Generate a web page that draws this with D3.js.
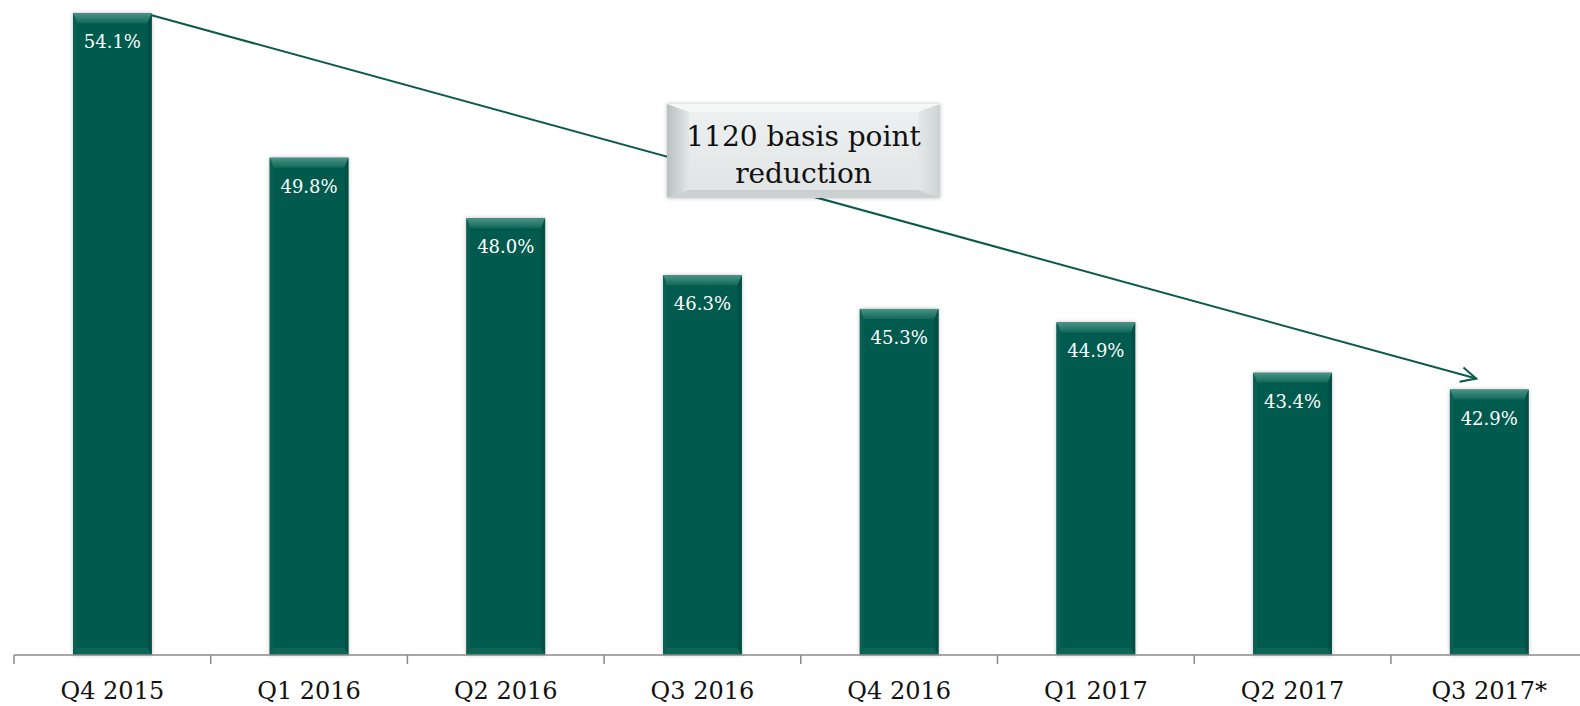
<!DOCTYPE html>
<html>
<head>
<meta charset="utf-8">
<script src="https://cdn.jsdelivr.net/npm/d3@7"></script>
<style>
  body { margin: 0; background: #fff; }
  svg { display: block; }
</style>
</head>
<body>
<div id="chart"></div>
<script>
// data
const quarters = ["Q4 2015", "Q1 2016", "Q2 2016", "Q3 2016", "Q4 2016", "Q1 2017", "Q2 2017", "Q3 2017*"];
const ratios = [54.1, 49.8, 48.0, 46.3, 45.3, 44.9, 43.4, 42.9];
const noteLines = ["1120 basis point", "reduction"];

const width = 1580, height = 706;
const baseY = 655;

const svg = d3.select("#chart").append("svg")
  .attr("width", width)
  .attr("height", height);

const defs = svg.append("defs");

// soft shadow round the bars
const shadow = defs.append("filter").attr("id", "shadow")
  .attr("x", "-20%").attr("y", "-5%").attr("width", "140%").attr("height", "110%");
shadow.append("feDropShadow")
  .attr("dx", 0).attr("dy", 0).attr("stdDeviation", 2.2)
  .attr("flood-color", "#000").attr("flood-opacity", 0.25);

const topBevel = defs.append("linearGradient").attr("id", "topBevel")
  .attr("x1", 0).attr("y1", 0).attr("x2", 0).attr("y2", 1);
topBevel.append("stop").attr("offset", "0%").attr("stop-color", "#4a9486");
topBevel.append("stop").attr("offset", "100%").attr("stop-color", "#12685a");

const boxFill = defs.append("linearGradient").attr("id", "boxFill")
  .attr("x1", 0).attr("y1", 0).attr("x2", 0).attr("y2", 1);
boxFill.append("stop").attr("offset", "0%").attr("stop-color", "#eef1f1");
boxFill.append("stop").attr("offset", "100%").attr("stop-color", "#e0e4e4");

const leftBevel = defs.append("linearGradient").attr("id", "leftBevel")
  .attr("x1", 0).attr("y1", 0).attr("x2", 1).attr("y2", 0);
leftBevel.append("stop").attr("offset", "0%").attr("stop-color", "#b9c0c0");
leftBevel.append("stop").attr("offset", "100%").attr("stop-color", "#e2e6e6");

const rightBevel = defs.append("linearGradient").attr("id", "rightBevel")
  .attr("x1", 0).attr("y1", 0).attr("x2", 1).attr("y2", 0);
rightBevel.append("stop").attr("offset", "0%").attr("stop-color", "#e4e8e8");
rightBevel.append("stop").attr("offset", "100%").attr("stop-color", "#cdd3d3");

// scales
const x = d3.scaleBand()
  .domain(quarters)
  .range([14, 14 + 8 * 196.7])
  .paddingInner(0.6)
  .paddingOuter(0.3);

const y = d3.scaleLinear()
  .domain([35, 55])
  .range([baseY, baseY - 20 * 33.6]);

// bars
const bars = svg.append("g").selectAll("g.bar")
  .data(quarters.map((q, i) => ({ q, v: ratios[i] })))
  .enter().append("g")
  .attr("class", "bar");

bars.append("rect")
  .attr("x", d => x(d.q))
  .attr("y", d => y(d.v))
  .attr("width", x.bandwidth())
  .attr("height", d => baseY - y(d.v))
  .attr("fill", "#065a4e")
  .attr("filter", "url(#shadow)");

// bevel: top, side and bottom strips
const bv = 10, sv = 4, bb = 7;
bars.append("polygon")
  .attr("points", d => {
    const x0 = x(d.q), x1 = x0 + x.bandwidth(), t = y(d.v);
    return [[x0, t], [x1, t], [x1 - sv, t + bv], [x0 + sv, t + bv]].join(" ");
  })
  .attr("fill", "url(#topBevel)");

bars.append("polygon")
  .attr("points", d => {
    const x0 = x(d.q), t = y(d.v);
    return [[x0, t], [x0 + sv, t + bv], [x0 + sv, baseY - bb], [x0, baseY]].join(" ");
  })
  .attr("fill", "#0a5f53");

bars.append("polygon")
  .attr("points", d => {
    const x1 = x(d.q) + x.bandwidth(), t = y(d.v);
    return [[x1, t], [x1 - sv, t + bv], [x1 - sv, baseY - bb], [x1, baseY]].join(" ");
  })
  .attr("fill", "#044f45");

bars.append("polygon")
  .attr("points", d => {
    const x0 = x(d.q), x1 = x0 + x.bandwidth();
    return [[x0, baseY], [x0 + sv, baseY - bb], [x1 - sv, baseY - bb], [x1, baseY]].join(" ");
  })
  .attr("fill", "#0d6457");

bars.append("text")
  .attr("x", d => x(d.q) + x.bandwidth() / 2)
  .attr("y", d => y(d.v) + 35)
  .attr("text-anchor", "middle")
  .attr("font-family", "'DejaVu Serif', serif")
  .attr("font-size", 18)
  .attr("fill", "#ffffff")
  .text(d => d.v.toFixed(1) + "%");

// axis
const axisG = svg.append("g");
axisG.append("line")
  .attr("x1", 14).attr("x2", width)
  .attr("y1", baseY).attr("y2", baseY)
  .attr("stroke", "#8a8a8a").attr("stroke-width", 1.5);

axisG.selectAll("line.tick")
  .data(quarters)
  .enter().append("line")
  .attr("class", "tick")
  .attr("x1", d => x(d) - x.step() * x.paddingOuter())
  .attr("x2", d => x(d) - x.step() * x.paddingOuter())
  .attr("y1", baseY).attr("y2", baseY + 9)
  .attr("stroke", "#8a8a8a").attr("stroke-width", 1.5);

axisG.selectAll("text")
  .data(quarters)
  .enter().append("text")
  .attr("x", d => x(d) + x.bandwidth() / 2)
  .attr("y", 699)
  .attr("text-anchor", "middle")
  .attr("font-family", "'DejaVu Serif', serif")
  .attr("font-size", 24)
  .attr("fill", "#111")
  .text(d => d);

// trend arrow from first bar to last bar
const first = quarters[0], last = quarters[quarters.length - 1];
const ax0 = x(first) + x.bandwidth(), ay0 = y(ratios[0]) + 2;
const ax1 = x(last) + x.bandwidth() / 2 - 13, ay1 = y(ratios[ratios.length - 1]) - 11;
const ang = Math.atan2(ay1 - ay0, ax1 - ax0);
const head = 17, spread = 0.45;

svg.append("line")
  .attr("x1", ax0).attr("y1", ay0)
  .attr("x2", ax1).attr("y2", ay1)
  .attr("stroke", "#0c5a4c").attr("stroke-width", 2);

svg.append("polyline")
  .attr("points", [
    [ax1 - head * Math.cos(ang - spread), ay1 - head * Math.sin(ang - spread)],
    [ax1, ay1],
    [ax1 - head * Math.cos(ang + spread), ay1 - head * Math.sin(ang + spread)]
  ].join(" "))
  .attr("fill", "none")
  .attr("stroke", "#0c5a4c").attr("stroke-width", 2);

// annotation box with bevelled edge
const bx = 667, by = 104, bw = 273, bh = 94, ex = 22, ey = 8;
const note = svg.append("g");
note.append("rect")
  .attr("x", bx).attr("y", by).attr("width", bw).attr("height", bh)
  .attr("fill", "#d9dede")
  .attr("filter", "url(#shadow)");
note.append("rect")
  .attr("x", bx).attr("y", by).attr("width", bw).attr("height", bh)
  .attr("fill", "url(#boxFill)");
note.append("polygon")
  .attr("points", [[bx, by], [bx + bw, by], [bx + bw - ex, by + ey], [bx + ex, by + ey]].join(" "))
  .attr("fill", "#f6f7f7");
note.append("polygon")
  .attr("points", [[bx, by], [bx + ex, by + ey], [bx + ex, by + bh - ey], [bx, by + bh]].join(" "))
  .attr("fill", "url(#leftBevel)");
note.append("polygon")
  .attr("points", [[bx + bw, by], [bx + bw, by + bh], [bx + bw - ex, by + bh - ey], [bx + bw - ex, by + ey]].join(" "))
  .attr("fill", "url(#rightBevel)");
note.append("polygon")
  .attr("points", [[bx, by + bh], [bx + ex, by + bh - ey], [bx + bw - ex, by + bh - ey], [bx + bw, by + bh]].join(" "))
  .attr("fill", "#cbd1d1");

note.selectAll("text")
  .data(noteLines)
  .enter().append("text")
  .attr("x", bx + bw / 2)
  .attr("y", (d, i) => by + 42 + i * 37)
  .attr("text-anchor", "middle")
  .attr("font-family", "'DejaVu Serif', serif")
  .attr("font-size", 28)
  .attr("fill", "#111")
  .text(d => d);
</script>
</body>
</html>
